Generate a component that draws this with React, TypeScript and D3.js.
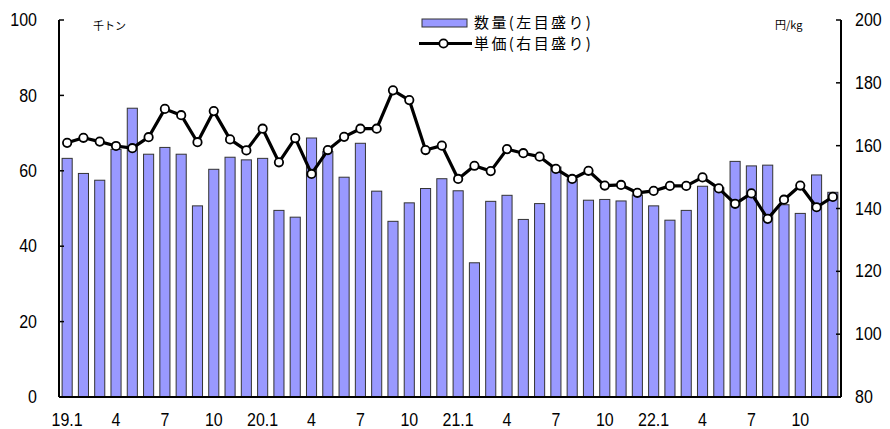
import React from "react";
import * as d3 from "d3";

const months: string[] = Array.from({ length: 48 }, (_, i) => `${19 + Math.floor(i / 12)}.${(i % 12) + 1}`);

const quantity: number[] = [
  63.3, 59.3, 57.5, 65.7, 76.6, 64.4, 66.2, 64.4, 50.7, 60.4, 63.6, 62.9,
  63.3, 49.5, 47.7, 68.7, 65.1, 58.3, 67.3, 54.6, 46.6, 51.5, 55.3, 57.9,
  54.7, 35.6, 51.9, 53.5, 47.1, 51.3, 61.0, 57.8, 52.2, 52.4, 52.0, 53.6,
  50.7, 46.9, 49.5, 55.9, 55.5, 62.5, 61.3, 61.5, 51.0, 48.7, 58.9, 54.3,
];

const price: number[] = [
  160.9, 162.5, 161.3, 159.9, 159.2, 162.7, 171.7, 169.7, 161.1, 171.0, 162.0, 158.5,
  165.4, 154.7, 162.4, 151.0, 158.6, 162.8, 165.4, 165.4, 177.6, 174.5, 158.6, 160.0,
  149.4, 153.6, 151.9, 158.9, 157.6, 156.5, 152.6, 149.4, 152.0, 147.3, 147.5, 145.0,
  145.6, 147.2, 147.2, 149.9, 146.4, 141.5, 144.8, 136.7, 142.8, 147.3, 140.4, 143.7,
];

const xTickLabels: string[] = ["19.1", "4", "7", "10", "20.1", "4", "7", "10", "21.1", "4", "7", "10", "22.1", "4", "7", "10"];
const leftTicks: number[] = [0, 20, 40, 60, 80, 100];
const rightTicks: number[] = [80, 100, 120, 140, 160, 180, 200];

const LAT = "'Liberation Sans', Arial, sans-serif";
const JP = "'Noto Sans CJK JP', sans-serif";

function Num(props: { x: number; y: number; anchor: string; text: string; middle?: boolean }) {
  return (
    <text transform={`translate(${props.x},${props.y}) scale(1,1.1)`} dy={props.middle ? "0.35em" : undefined}
      textAnchor={props.anchor as any} fontFamily={LAT} fontSize={16} fill="#000">{props.text}</text>
  );
}

export default function App() {
  const left = 59, right = 841, top = 20, bottom = 397;
  const x = d3.scaleBand<string>().domain(months).range([left, right]).paddingInner(0.38).paddingOuter(0.19);
  const yL = d3.scaleLinear().domain([0, 100]).range([bottom, top]);
  const yR = d3.scaleLinear().domain([80, 200]).range([bottom, top]);
  const cx = (i: number) => (x(months[i]) as number) + x.bandwidth() / 2;
  const line = d3.line<number>().x((_, i) => cx(i)).y((d) => yR(d));

  return (
    <svg width={890} height={429} style={{ position: "absolute", left: 0, top: 0, background: "#fff" }}>
      {quantity.map((v, i) => (
        <rect key={i} x={x(months[i])} y={yL(v)} width={x.bandwidth()} height={yL(0) - yL(v)}
          fill="#9999ff" stroke="#333" strokeWidth={1} />
      ))}
      <line x1={left} x2={left} y1={top} y2={bottom} stroke="#000" strokeWidth={2} />
      <line x1={right} x2={right} y1={top} y2={bottom} stroke="#000" strokeWidth={2} />
      <line x1={left} x2={right} y1={bottom} y2={bottom} stroke="#000" strokeWidth={2} />
      {leftTicks.map((t) => (
        <g key={"l" + t}>
          <line x1={left} x2={left + 5} y1={yL(t)} y2={yL(t)} stroke="#000" strokeWidth={1.5} />
          <Num x={37} y={yL(t)} anchor="end" text={String(t)} middle />
        </g>
      ))}
      {rightTicks.map((t) => (
        <g key={"r" + t}>
          <line x1={right - 5} x2={right} y1={yR(t)} y2={yR(t)} stroke="#000" strokeWidth={1.5} />
          <Num x={855} y={yR(t)} anchor="start" text={String(t)} middle />
        </g>
      ))}
      {xTickLabels.map((lab, k) => (
        <Num key={"x" + k} x={cx(k * 3)} y={426} anchor="middle" text={lab} />
      ))}
      <text x={93} y={30} fontFamily={JP} fontSize={11} fill="#000">千トン</text>
      <text x={775} y={29} fontFamily={JP} fontSize={11} fill="#000">円/kg</text>
      <path d={line(price) as string} fill="none" stroke="#000" strokeWidth={3.2} strokeLinejoin="round" />
      {price.map((v, i) => (
        <circle key={"c" + i} cx={cx(i)} cy={yR(v)} r={4.2} fill="#fff" stroke="#000" strokeWidth={1.8} />
      ))}
      <rect x={422} y={19} width={45} height={8} fill="#9999ff" stroke="#333" strokeWidth={1} />
      <text x={474} y={22.5} dy="0.35em" fontFamily={JP} fontSize={15} letterSpacing={2.4} fill="#000">数量(左目盛り)</text>
      <line x1={419} x2={472} y1={43.5} y2={43.5} stroke="#000" strokeWidth={3.2} />
      <circle cx={443.5} cy={43.5} r={4.2} fill="#fff" stroke="#000" strokeWidth={1.8} />
      <text x={474} y={44} dy="0.35em" fontFamily={JP} fontSize={15} letterSpacing={2.4} fill="#000">単価(右目盛り)</text>
    </svg>
  );
}
